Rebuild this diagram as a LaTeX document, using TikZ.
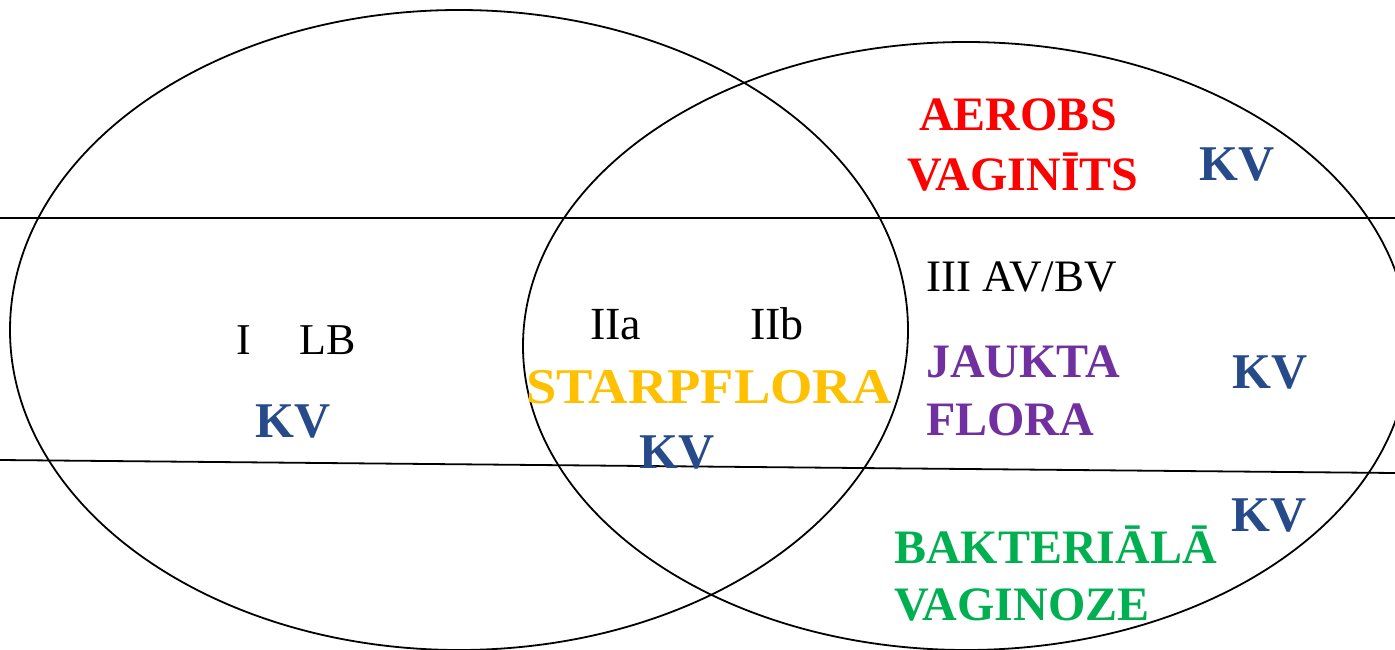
\documentclass[tikz,border=0pt]{standalone}
\usepackage{fontspec}
\setmainfont{Liberation Serif}
\definecolor{kvblue}{HTML}{264A8A}
\definecolor{avred}{HTML}{FF0000}
\definecolor{gold}{HTML}{FFC000}
\definecolor{purp}{HTML}{7030A0}
\definecolor{bvgreen}{HTML}{00B050}
\tikzset{
  lbl/.style={inner sep=0pt, anchor=base west},
  reg/.style={lbl, font=\fontsize{45}{54}\selectfont},
  bld/.style={lbl, font=\fontsize{48}{58}\selectfont\bfseries},
  kv/.style={lbl, font=\fontsize{50}{58}\selectfont\bfseries, text=kvblue},
  ring/.style={draw=black, line width=1.8pt},
  divider/.style={draw=black, line width=1.8pt}
}
\begin{document}
\begin{tikzpicture}[x=1pt,y=-1pt]
\useasboundingbox (0,0) rectangle (1395,650);
\begin{scope}
\clip (0,0) rectangle (1395,650);
\draw[ring] (459,330) ellipse [x radius=449, y radius=320];
\draw[ring] (966,346) ellipse [x radius=443, y radius=304];
\coordinate (l1a) at (0,218);
\coordinate (l1b) at (1395,218);
\coordinate (l2a) at (0,460);
\coordinate (l2b) at (1395,473);
\draw[divider] (l1a) -- (l1b);
\draw[divider] (l2a) -- (l2b);
\end{scope}

% left region
\node[reg, font=\fontsize{44}{52}\selectfont] (ilb) at (236,354) {I\hspace{49pt}LB};
\node[kv] (kv1) at (255,437) {KV};

% middle region
\node[reg, font=\fontsize{46}{54}\selectfont] (iia) at (590,339) {IIa};
\node[reg, font=\fontsize{46}{54}\selectfont] (iib) at (750,339) {IIb};
\node[lbl, font=\fontsize{50}{58}\selectfont\bfseries, text=gold] (star) at (526,403) {\scalebox{1.09}[1]{STARPFLORA}};
\node[kv] (kv2) at (639,468) {KV};

% right top
\node[bld, text=avred, anchor=base] (aer) at (1018,131) {AEROBS};
\node[bld, text=avred, anchor=base] (vag) at (1023,190) {VAGINĪTS};
\node[kv] (kv3) at (1199,180) {KV};

% right middle
\node[reg] (iii) at (926,291) {III AV/BV};
\node[bld, text=purp] (jau) at (926,377) {JAUKTA};
\node[bld, text=purp] (flo) at (926,435) {FLORA};
\node[kv] (kv4) at (1232,388) {KV};

% right bottom
\node[bld, text=bvgreen] (bak) at (894,563) {BAKTERIĀLĀ};
\node[bld, text=bvgreen] (vgz) at (894,620) {VAGINOZE};
\node[kv] (kv5) at (1231,531) {KV};
\end{tikzpicture}
\end{document}
